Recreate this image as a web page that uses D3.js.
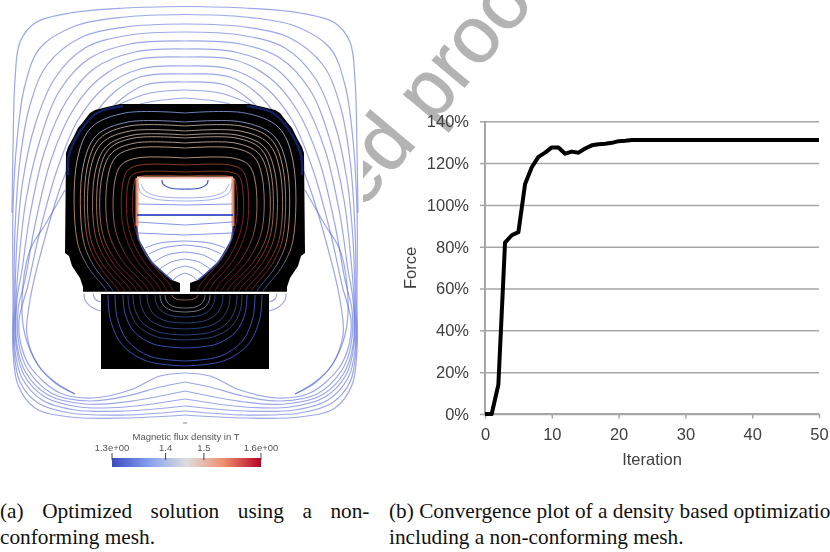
<!DOCTYPE html>
<html>
<head>
<meta charset="utf-8">
<script src="https://cdn.jsdelivr.net/npm/d3@7"></script>
<style>
  html, body { margin: 0; padding: 0; background: #fff; }
  svg { display: block; }
  text { font-family: "Liberation Sans", Arial, sans-serif; }
  .caption { font-family: "Liberation Serif", serif; font-size: 20px; fill: #111; }
</style>
</head>
<body>
<svg id="page" width="830" height="552"></svg>
<script>
// convergence curve (b)
const iterations = d3.range(0, 51);
const force = [0, 0, 14, 82, 85.5, 87, 110, 118, 123, 125, 127.5, 127.5, 124.5, 125.5, 125, 127, 128.5, 129, 129.3, 129.7,
  130.5, 130.7, 131, 131, 131, 131, 131, 131, 131, 131, 131, 131, 131, 131, 131, 131, 131, 131, 131, 131,
  131, 131, 131, 131, 131, 131, 131, 131, 131, 131, 131];
const forceTicks = [0, 20, 40, 60, 80, 100, 120, 140];
const iterTicks = [0, 10, 20, 30, 40, 50];

// field lines outside the iron (a): [distance from symmetry axis, height]
const airLines = [
  [[0,6.5],[60,8],[115,13],[150,23],[165,42],[170,80],[172,150],[173,213]],
  [[0,14.5],[60,17],[110,26],[145,48],[160,85],[168,140],[172,210],[172,300],[172,350],[167,385],[150,408],[115,417],[60,418],[0,415]],
  [[0,24],[60,27],[105,38],[138,65],[155,105],[165,160],[170,230],[171,300],[171,350],[165,382],[147,403],[115,413],[60,415],[0,411]],
  [[0,32],[55,35],[100,48],[130,78],[150,125],[162,180],[168,240],[170,300],[170,350],[163,378],[143,400],[110,410],[60,411],[0,406]],
  [[0,41],[55,44],[95,58],[125,90],[145,140],[159,200],[166,260],[169,300],[169,345],[161,375],[140,397],[105,407],[60,407],[0,399]],
  [[0,49],[50,52],[90,68],[118,100],[140,150],[155,215],[163,270],[168,300],[168,345],[159,373],[137,395],[100,404],[60,402],[0,391]],
  [[0,57],[50,60],[85,78],[112,110],[134,160],[150,225],[160,280],[167,310],[166,345],[157,370],[132,394],[95,401],[58,396],[25,387],[0,382]],
  [[0,66],[45,69],[80,87],[107,120],[128,170],[146,235],[157,285],[166,320],[164,345],[154,368],[125,393],[92,398],[55,390],[25,376],[0,373]],
  [[0,74],[45,77],[75,96],[100,130],[122,180],[142,245],[155,300],[158,335],[147,365],[130,382],[110,394]],
  [[120,190],[140,225],[155,250],[163,300],[160,335],[147,365],[130,383],[110,394]],
  [[0,82],[40,85],[65,100],[90,128],[110,150]],
  [[0,90],[35,93],[65,104]],
  [[0,98],[30,101],[45,104]],
  [[101,293],[100,300],[92,308],[84,311]],
  [[92,293],[90,299],[84,302]]
];

// iron outlines, half shapes
const upperCore = [[0,104],[65,104],[78,107],[90,110],[95,113],[102,122],[107,128],[112,138],[117,147],[119,153],[120,253],[116,256],[113,266],[109,272],[105,278],[102,287],[102,292],[0,292]];
const cavity = [[0,177],[48,177],[48,226],[46,240],[33,262],[13,280],[5,283],[5,292],[0,292]];
const lowerCoreHalf = [[0,294],[84,294],[84,369],[0,369]];

// flux lines inside the upper iron, outer to inner
const coreTops = [113, 122, 126, 131, 135, 138, 143, 148, 158, 165, 172, 176];
const coreSides = [108, 102, 98, 95, 90, 86, 83, 77, 70, 62, 57, 51];
const coreEnds = [78, 72, 66, 60, 54, 48, 42, 36, 30, 24, 18, 12];
const coreRadii = [48, 45, 42, 40, 38, 35, 33, 28, 22, 17, 12, 8];

// flux lines inside the lower iron
const lowerBottoms = [366, 361, 348, 340, 335, 329, 323, 317, 312, 308, 300];
const lowerEnds = [77, 70, 62, 57, 52, 45, 38, 30, 25, 20, 13];

// lines inside the air gap
const gapRings = [
  [[0,189],[15,188],[22,184],[23,180]],
  [[0,198],[28,196],[40,191],[44,184]],
  [[0,201],[30,199],[44,193],[47,183]]
];
const gapArcs = [
  [[0,205],[47,204]],
  [[0,215],[48,215]],
  [[0,225],[48,222]],
  [[0,235],[47,233]],
  [[0,241],[25,243],[40,248]],
  [[0,245],[22,248],[36,254]],
  [[0,252],[18,255],[31,262]],
  [[0,259],[14,262],[25,269]],
  [[0,266],[10,269],[18,275]],
  [[0,273],[7,276],[12,280]]
];

// colour bar
const barStops = ["#3b4cc0", "#86a0ee", "#dddddd", "#ee8f6e", "#b40426"];
const barTicks = [1.26, 1.4, 1.5, 1.649];
const barLabels = ["1.3e+00", "1.4", "1.5", "1.6e+00"];

const captionA = ["(a) Optimized solution using a non-", "conforming mesh."];
const captionB = ["(b) Convergence plot of a density based optimization", "including a non-conforming mesh."];

const svg = d3.select("#page");
const defs = svg.append("defs");

function yGradient(id, stops) {
  const g = defs.append("linearGradient").attr("id", id)
    .attr("gradientUnits", "userSpaceOnUse")
    .attr("x1", 0).attr("x2", 0).attr("y1", 104).attr("y2", 292);
  stops.forEach(s => g.append("stop").attr("offset", s[0]).attr("stop-color", s[1]));
}
yGradient("outerGrad", [[0, "#6f86d0"], [0.22, "#a8b0c8"], [0.42, "#c09078"], [0.72, "#b88a6c"], [0.95, "#46589c"], [1, "#46589c"]]);
yGradient("midGrad", [[0, "#b8b0a8"], [0.3, "#bfa08c"], [0.6, "#a87458"], [0.82, "#8a2820"], [1, "#7a1a1c"]]);
yGradient("innerGrad", [[0, "#b07458"], [0.35, "#983e26"], [0.6, "#8a2420"], [1, "#7a1a1c"]]);

// watermark sits behind the two white figures
svg.append("text")
  .attr("transform", "translate(361,211) rotate(-50)")
  .attr("font-size", 80)
  .attr("fill", "#b3b3b3")
  .attr("stroke", "#b3b3b3")
  .attr("stroke-width", 0.8)
  .text("ed proof");
svg.append("rect").attr("x", 0).attr("y", 0).attr("width", 363).attr("height", 480).attr("fill", "#fff");

// ---- left figure
const fig = svg.append("g").style("filter", "blur(0.4px)");
const xF = d3.scaleLinear().domain([-185, 185]).range([0, 370]);
const yF = d3.scaleLinear().domain([0, 552]).range([0, 552]);

const smooth = d3.line().x(d => xF(d[0])).y(d => yF(d[1])).curve(d3.curveCatmullRom.alpha(0.5));
const straight = d3.line().x(d => xF(d[0])).y(d => yF(d[1]));
const side = (pts, s) => pts.map(d => [s * d[0], d[1]]);
const both = pts => [...side(pts, -1), ...side(pts, 1).reverse()];

function drawLines(g, lines, stroke, width, opacity) {
  [-1, 1].forEach(s => {
    g.selectAll(null).data(lines).enter().append("path")
      .attr("d", d => smooth(side(d, s)))
      .attr("fill", "none")
      .attr("stroke", stroke)
      .attr("stroke-width", width)
      .attr("stroke-opacity", opacity);
  });
}

drawLines(fig, airLines, "#4a5cd6", 1.2, 0.55);

fig.append("path").attr("d", straight(both(upperCore))).attr("fill", "#000");
fig.append("path").attr("d", straight(both(lowerCoreHalf))).attr("fill", "#000");

// dark blue skin on the outer corners of the iron
const skin = [[62,106],[88,113],[104,130],[116,155],[117,175]];
drawLines(fig, [skin], "#1f33a0", 2.5, 0.6);

const corePath = i => {
  const t = coreTops[i], s = coreSides[i], e = coreEnds[i], r = coreRadii[i];
  const low = 240 - i * 1.5;
  return [[0, t], [s - r, t], [s - r * 0.3, t + r * 0.3], [s, t + r], [s, low],
    [(s + e) / 2 + (s - e) * 0.16, (low + 291) / 2], [e + (s - e) * 0.1, 287 - i * 0.3], [e, 291]];
};
d3.range(coreTops.length).forEach(i => {
  const grad = i < 2 ? "outerGrad" : i < 9 ? "midGrad" : "innerGrad";
  drawLines(fig, [corePath(i)], `url(#${grad})`, 1, 0.9);
});

const lowerPath = i => {
  const b = lowerBottoms[i], e = lowerEnds[i], h = b - 294;
  return [[0, b], [e * 0.5, b - h * 0.07], [e * 0.82, b - h * 0.3], [e * 0.97, b - h * 0.65], [e, 295]];
};
d3.range(lowerBottoms.length).forEach(i => {
  const c = i < 3 ? "#3f58c8" : i < 8 ? "#2f4a86" : i < 10 ? "#7c8898" : "#a07050";
  drawLines(fig, [lowerPath(i)], c, 1, 0.9);
});

// air gap
fig.append("path").attr("d", straight(both(cavity))).attr("fill", "#fff");
const gapEdge = [[48,178],[48,226],[46,240],[33,262],[13,280]];
drawLines(fig, [gapEdge.slice(0, 2)], "#ef8f6c", 3, 0.9);
drawLines(fig, [gapEdge.slice(1)], "#4a60d0", 1.6, 0.8);
fig.append("line").attr("x1", xF(-48)).attr("x2", xF(48)).attr("y1", yF(177.5)).attr("y2", yF(177.5))
  .attr("stroke", "#f2b9a0").attr("stroke-width", 2);
drawLines(fig, gapRings.slice(0, 1), "#2f46c0", 1.2, 0.95);
drawLines(fig, gapRings.slice(1), "#7d8ce0", 1, 0.7);
drawLines(fig, gapArcs, "#5c70d8", 1, 0.75);
drawLines(fig, gapArcs.slice(1, 2), "#1f37c0", 1.7, 1);

// interface between the two iron parts
fig.append("line").attr("x1", xF(-102)).attr("x2", xF(102)).attr("y1", yF(292.6)).attr("y2", yF(292.6))
  .attr("stroke", "#fff").attr("stroke-width", 1.6);

// colour bar
const barScale = d3.scaleLinear().domain([1.26, 1.649]).range([112, 261]);
const barGrad = defs.append("linearGradient").attr("id", "barGrad");
barStops.forEach((c, i) => barGrad.append("stop").attr("offset", i / (barStops.length - 1)).attr("stop-color", c));

const bar = svg.append("g").style("filter", "blur(0.3px)");
bar.append("rect").attr("x", 112).attr("y", 458).attr("width", 149).attr("height", 9).attr("fill", "url(#barGrad)");
bar.selectAll(".tick").data(barTicks).enter().append("line")
  .attr("x1", d => barScale(d)).attr("x2", d => barScale(d))
  .attr("y1", 453).attr("y2", 460)
  .attr("stroke", "#444").attr("stroke-width", 1);
bar.selectAll(".lab").data(barTicks).enter().append("text")
  .attr("x", d => barScale(d))
  .attr("y", 450.5)
  .attr("text-anchor", "middle")
  .attr("font-size", 9.5)
  .attr("fill", "#555")
  .text((d, i) => barLabels[i]);
bar.append("text").attr("x", 186).attr("y", 439.5).attr("text-anchor", "middle")
  .attr("font-size", 9.5).attr("fill", "#555").text("Magnetic flux density in T");
bar.append("line").attr("x1", 183).attr("x2", 187).attr("y1", 423).attr("y2", 423).attr("stroke", "#888");

// ---- right figure
const margin = { left: 485, right: 11, top: 121.3, bottom: 138 };
const xScale = d3.scaleLinear().domain([0, 50]).range([margin.left, 830 - margin.right]);
const yScale = d3.scaleLinear().domain([0, 140]).range([552 - margin.bottom, margin.top]);

const chart = svg.append("g").style("filter", "blur(0.35px)");

const yAxis = d3.axisLeft(yScale).tickValues(forceTicks).tickFormat(d => d + "%").tickSize(5).tickPadding(11);
const gy = chart.append("g").attr("transform", `translate(${margin.left},0)`).call(yAxis);
gy.selectAll(".tick").append("line").attr("class", "grid")
  .attr("x2", 830 - margin.right - margin.left).attr("stroke", "#a6a6a6").attr("stroke-width", 1.5);

const xAxis = d3.axisBottom(xScale).tickValues(iterTicks).tickSize(4.5).tickPadding(10);
const gx = chart.append("g").attr("transform", `translate(0,${552 - margin.bottom})`).call(xAxis);

chart.selectAll(".domain").attr("stroke", "#a6a6a6").attr("stroke-width", 2).attr("d", null);
gy.select(".domain").attr("d", `M0,${margin.top}V${552 - margin.bottom}`);
gx.select(".domain").attr("d", `M${margin.left},0H${830 - margin.right}`);
chart.selectAll(".tick line").attr("stroke", "#a6a6a6").attr("stroke-width", 1.5);
chart.selectAll(".tick text")
  .attr("font-family", "Liberation Sans, Arial, sans-serif")
  .attr("font-size", 16.5).attr("fill", "#404040");

chart.append("text").attr("x", 652).attr("y", 465).attr("text-anchor", "middle")
  .attr("font-size", 16.5).attr("fill", "#404040").text("Iteration");
chart.append("text").attr("transform", "translate(415.5,268) rotate(-90)").attr("text-anchor", "middle")
  .attr("font-size", 16.5).attr("fill", "#404040").text("Force");

chart.append("path")
  .datum(iterations)
  .attr("fill", "none")
  .attr("stroke", "#000")
  .attr("stroke-width", 4)
  .attr("stroke-linejoin", "round")
  .attr("d", d3.line().x(d => xScale(d)).y(d => yScale(force[d])));

// ---- captions
const capX = [0, 389], capY = [518, 544];
[captionA, captionB].forEach((lines, c) => {
  lines.forEach((t, i) => {
    svg.append("text").attr("class", "caption")
      .attr("transform", `translate(${capX[c]},${capY[i]}) scale(1.065,1)`)
      .attr("word-spacing", c === 0 && i === 0 ? 12.4 : 0)
      .text(t);
  });
});
</script>
</body>
</html>
